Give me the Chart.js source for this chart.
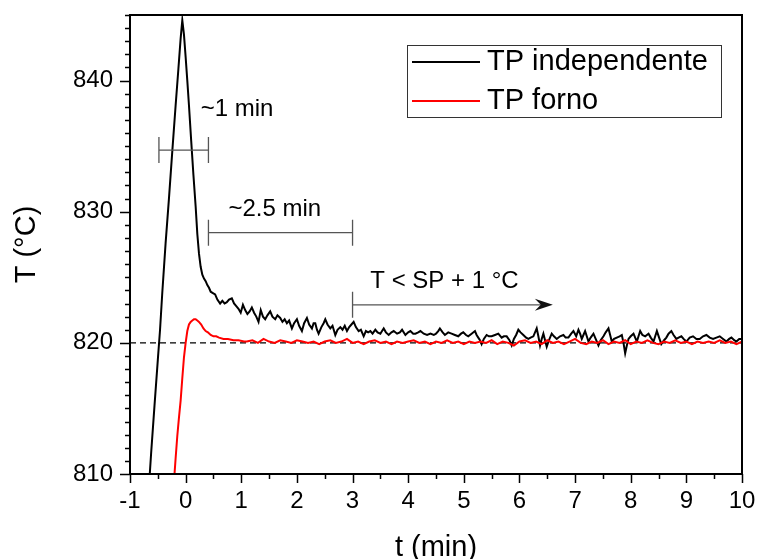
<!DOCTYPE html>
<html>
<head>
<meta charset="utf-8">
<script src="https://cdn.jsdelivr.net/npm/chart.js@4.4.1/dist/chart.umd.min.js"></script>
<style>
  html, body { margin: 0; padding: 0; background: #fff; }
  #wrap { width: 757px; height: 559px; }
</style>
</head>
<body>
<div id="wrap"><canvas id="chart" width="757" height="559"></canvas></div>
<script>
// ---------- data ----------
const xTickValues = [-1, 0, 1, 2, 3, 4, 5, 6, 7, 8, 9, 10];
const yTickValues = [810, 820, 830, 840];
const setPoint = 820;
const spLineT = [-1, 10];

// TP independente (black)
const tIndep = [
  -0.66, -0.62, -0.56, -0.50, -0.46, -0.42, -0.36, -0.30, -0.24, -0.18, -0.13, -0.09, -0.06, -0.03,
  0.00, 0.03, 0.06, 0.10, 0.14, 0.18, 0.21, 0.24, 0.27, 0.30, 0.33, 0.36, 0.39, 0.42, 0.45, 0.49,
  0.53, 0.57, 0.62, 0.66, 0.70, 0.74, 0.78, 0.83, 0.87, 0.91, 0.95, 0.99, 1.03, 1.07, 1.11, 1.15,
  1.19, 1.23, 1.27, 1.31, 1.35, 1.39, 1.43, 1.47, 1.52, 1.56, 1.61, 1.65, 1.70, 1.74, 1.78, 1.82,
  1.86, 1.91, 1.95, 2.00, 2.04, 2.09, 2.13, 2.18, 2.22, 2.27, 2.30, 2.33, 2.36, 2.39, 2.44, 2.48,
  2.51, 2.55, 2.60, 2.64, 2.69, 2.73, 2.78, 2.82, 2.86, 2.90, 2.94, 2.98, 3.02, 3.06, 3.11, 3.15,
  3.20, 3.24, 3.28, 3.32, 3.36, 3.41, 3.45, 3.50, 3.53, 3.56, 3.60, 3.65, 3.70, 3.74, 3.80, 3.85,
  3.89, 3.95, 4.00, 4.04, 4.09, 4.13, 4.18, 4.22, 4.28, 4.34, 4.40, 4.46, 4.50, 4.54, 4.57, 4.62,
  4.66, 4.72, 4.78, 4.84, 4.90, 4.95, 4.99, 5.04, 5.08, 5.14, 5.20, 5.23, 5.26, 5.29, 5.32, 5.36,
  5.41, 5.45, 5.50, 5.56, 5.62, 5.68, 5.72, 5.77, 5.82, 5.86, 5.90, 5.94, 5.98, 6.02, 6.07, 6.12,
  6.16, 6.20, 6.25, 6.31, 6.34, 6.37, 6.40, 6.43, 6.46, 6.49, 6.53, 6.58, 6.62, 6.67, 6.73, 6.79,
  6.83, 6.88, 6.93, 6.97, 7.02, 7.06, 7.09, 7.12, 7.15, 7.18, 7.21, 7.24, 7.28, 7.33, 7.37, 7.42,
  7.46, 7.51, 7.55, 7.60, 7.63, 7.66, 7.70, 7.75, 7.80, 7.84, 7.87, 7.90, 7.93, 7.96, 8.00, 8.05,
  8.08, 8.11, 8.14, 8.17, 8.21, 8.26, 8.32, 8.36, 8.41, 8.44, 8.47, 8.51, 8.55, 8.60, 8.64, 8.68,
  8.73, 8.77, 8.82, 8.86, 8.91, 8.95, 9.00, 9.06, 9.12, 9.18, 9.24, 9.30, 9.36, 9.42, 9.48, 9.54,
  9.60, 9.66, 9.72, 9.77, 9.81, 9.86, 9.90, 9.95, 10.00
];
const TIndep = [
  809.0, 811.6, 815.2, 818.7, 821.0, 823.8, 827.6, 831.0, 834.6, 838.1, 840.9, 843.2, 844.6, 843.5,
  841.8, 840.0, 838.1, 835.4, 832.8, 830.4, 828.3, 826.8, 825.8, 825.2, 824.9, 824.7, 824.4, 824.2, 823.9, 823.8,
  823.7, 823.3, 823.0, 823.2, 823.0, 823.1, 823.3, 823.4, 823.0, 822.8, 822.6, 822.3, 822.9, 822.5, 822.2, 822.4,
  822.7, 822.3, 822.0, 821.6, 822.5, 822.0, 821.8, 822.1, 822.4, 822.0, 821.8, 822.1, 821.9, 821.6, 821.8, 821.5,
  821.7, 821.1, 821.5, 821.8, 821.3, 820.9, 821.5, 821.9, 821.4, 821.1, 821.5, 821.5, 821.0, 820.7, 821.2, 821.5,
  821.8, 821.4, 821.1, 821.3, 820.6, 821.0, 821.2, 821.0, 821.3, 820.9, 821.2, 821.4, 821.6, 821.2, 820.9, 821.0,
  820.5, 820.9, 820.8, 820.9, 820.7, 821.0, 820.8, 820.7, 820.9, 821.1, 820.8, 820.6, 820.8, 820.9, 820.7, 820.8,
  821.0, 820.6, 820.8, 820.9, 820.7, 820.7, 820.8, 820.9, 820.7, 820.6, 820.7, 820.6, 820.7, 820.9, 821.1, 820.8,
  820.6, 820.8, 820.7, 820.6, 820.5, 820.7, 820.8, 820.6, 820.5, 820.7, 820.9, 820.6, 820.4, 820.2, 819.9, 820.3,
  820.6, 820.5, 820.5, 820.6, 820.7, 820.4, 820.5, 820.5, 820.2, 819.8, 820.3, 820.6, 821.0, 820.8, 820.6, 820.4,
  820.3, 820.4, 820.5, 821.1, 820.5, 819.8, 820.3, 820.7, 820.2, 819.7, 820.2, 820.7, 820.5, 820.3, 820.5, 820.6,
  820.4, 820.4, 820.7, 820.9, 820.5, 821.0, 820.7, 820.3, 820.6, 820.9, 820.5, 820.1, 820.4, 820.7, 820.3, 819.8,
  820.2, 820.5, 820.8, 821.1, 820.6, 820.1, 820.3, 820.4, 820.5, 820.6, 820.0, 819.2, 819.8, 820.3, 820.5, 820.7,
  820.4, 820.1, 820.5, 820.9, 820.6, 820.5, 820.7, 820.4, 820.1, 820.5, 820.9, 820.4, 819.9, 820.2, 820.4, 820.7,
  820.9, 820.6, 820.3, 820.4, 820.5, 820.3, 820.1, 820.4, 820.5, 820.3, 820.3, 820.5, 820.6, 820.4, 820.3, 820.4,
  820.5, 820.3, 820.1, 820.3, 820.4, 820.2, 820.1, 820.3, 820.3
];

// TP forno (red)
const tForno = [
  -0.21, -0.18, -0.15, -0.12, -0.09, -0.06, -0.03, 0.00, 0.03, 0.06, 0.09, 0.12, 0.15, 0.18,
  0.21, 0.24, 0.28, 0.32, 0.36, 0.40, 0.45, 0.50, 0.55, 0.60, 0.68, 0.76, 0.86, 0.95, 1.05,
  1.1, 1.2, 1.3, 1.4, 1.5, 1.6, 1.7, 1.8, 1.9, 2.0, 2.1, 2.2, 2.3, 2.4, 2.5, 2.6, 2.7, 2.8, 2.9,
  3.0, 3.1, 3.2, 3.3, 3.4, 3.5, 3.6, 3.7, 3.8, 3.9, 4.0, 4.1, 4.2, 4.3, 4.4, 4.5, 4.6, 4.7, 4.8, 4.9,
  5.0, 5.1, 5.2, 5.3, 5.4, 5.5, 5.6, 5.7, 5.8, 5.9, 6.0, 6.1, 6.2, 6.3, 6.4, 6.5, 6.6, 6.7, 6.8, 6.9,
  7.0, 7.1, 7.2, 7.3, 7.4, 7.5, 7.6, 7.7, 7.8, 7.9, 8.0, 8.1, 8.2, 8.3, 8.4, 8.5, 8.6, 8.7, 8.8, 8.9,
  9.0, 9.1, 9.2, 9.3, 9.4, 9.5, 9.6, 9.7, 9.8, 9.9, 10.0
];
const TForno = [
  809.4, 811.2, 812.9, 814.3, 815.6, 817.3, 818.9, 820.0, 820.9, 821.4, 821.6, 821.7, 821.8, 821.8,
  821.7, 821.6, 821.4, 821.1, 820.9, 820.8, 820.6, 820.5, 820.5, 820.4, 820.3, 820.3, 820.2, 820.2, 820.1,
  820.1, 820.2, 820.0, 820.3, 820.1, 820.0, 820.2, 820.1, 820.0, 820.2, 820.1, 820.0, 820.1, 819.9, 820.1, 820.2, 820.0, 820.1, 820.3,
  820.0, 820.1, 819.9, 820.1, 820.2, 820.0, 820.1, 819.9, 820.1, 820.0, 820.1, 820.2, 820.0, 820.1, 819.9, 820.1, 820.0, 820.2, 820.0, 820.1,
  819.9, 820.1, 820.0, 820.1, 820.0, 820.2, 819.9, 820.1, 820.0, 819.8, 820.1, 820.2, 820.0, 820.1, 819.9, 820.2, 820.0, 820.1, 819.9, 820.1,
  820.3, 820.0, 819.9, 820.1, 820.0, 820.2, 819.9, 820.1, 820.0, 820.2, 819.9, 820.1, 820.0, 820.2, 820.0, 819.9, 820.1, 820.0, 820.2, 820.0,
  820.1, 819.9, 820.1, 820.0, 820.1, 820.0, 820.2, 820.0, 820.1, 819.9, 820.1
];

// annotations (data units)
const spanBars = [
  { from: -0.48, to: 0.41, y: 834.7, label: "~1 min", lx: 0.27, ly: 837.8 },
  { from: 0.41, to: 3.0, y: 828.4, label: "~2.5 min", lx: 0.77, ly: 830.15 },
];
const arrowNote = { from: 3.0, to: 6.6, y: 822.9, label: "T < SP + 1 °C", lx: 3.32, ly: 824.7 };

// ---------- helpers ----------
const FONT = "'Liberation Sans', Arial, Helvetica, sans-serif";
const pts = (ts, vs) => ts.map((t, i) => ({ x: t, y: vs[i] }));

// keep tick labels from pushing the plot area inwards
function fixBox(axis, size) {
  if (axis.isHorizontal()) axis.height = size; else axis.width = size;
  axis.paddingTop = 0;
  axis.paddingBottom = 0;
  axis.paddingLeft = 0;
  axis.paddingRight = 0;
}

const decor = {
  id: "decor",
  afterDatasetsDraw(chart) {
    const { ctx, scales: { x, y } } = chart;
    ctx.save();
    ctx.strokeStyle = "#555";
    ctx.lineWidth = 1.3;
    ctx.fillStyle = "#000";
    ctx.font = "24px " + FONT;
    ctx.textBaseline = "middle";
    ctx.textAlign = "left";

    // span bars with end caps
    spanBars.forEach((b) => {
      const x0 = x.getPixelForValue(b.from), x1 = x.getPixelForValue(b.to);
      const py = y.getPixelForValue(b.y);
      ctx.beginPath();
      ctx.moveTo(x0, py); ctx.lineTo(x1, py);
      ctx.moveTo(x0, py - 13); ctx.lineTo(x0, py + 13);
      ctx.moveTo(x1, py - 13); ctx.lineTo(x1, py + 13);
      ctx.stroke();
      ctx.fillText(b.label, x.getPixelForValue(b.lx), y.getPixelForValue(b.ly));
    });

    // arrow
    const ax0 = x.getPixelForValue(arrowNote.from), ax1 = x.getPixelForValue(arrowNote.to);
    const ay = y.getPixelForValue(arrowNote.y);
    ctx.beginPath();
    ctx.moveTo(ax0, ay - 13); ctx.lineTo(ax0, ay + 13);
    ctx.moveTo(ax0, ay); ctx.lineTo(ax1 - 6, ay);
    ctx.stroke();
    ctx.fillStyle = "#111";
    ctx.beginPath();
    ctx.moveTo(ax1, ay);
    ctx.lineTo(ax1 - 18, ay - 6);
    ctx.lineTo(ax1 - 12, ay);
    ctx.lineTo(ax1 - 18, ay + 6);
    ctx.closePath();
    ctx.fill();
    ctx.fillStyle = "#000";
    ctx.fillText(arrowNote.label, x.getPixelForValue(arrowNote.lx), y.getPixelForValue(arrowNote.ly));

    // legend box
    ctx.strokeStyle = "#333";
    ctx.lineWidth = 1;
    ctx.strokeRect(407.5, 45.5, 314, 72);
    ctx.font = "29px " + FONT;
    [0, 1].forEach((di, row) => {
      const ds = chart.data.datasets[di];
      const ry = 62 + row * 39;
      ctx.strokeStyle = ds.borderColor;
      ctx.lineWidth = 2;
      ctx.beginPath();
      ctx.moveTo(412, ry); ctx.lineTo(480, ry);
      ctx.stroke();
      ctx.fillStyle = "#000";
      ctx.fillText(ds.label, 487, ry);
    });
    ctx.restore();
  },
  afterDraw(chart) {
    const { ctx, chartArea: a, scales: { x, y } } = chart;
    ctx.save();
    ctx.strokeStyle = "#000";
    ctx.lineWidth = 1.5;
    ctx.beginPath();
    // x ticks: major every 1, minor every 0.5 (outward)
    for (let i = 0; i <= 22; i++) {
      const v = -1 + i * 0.5;
      const px = Math.round(x.getPixelForValue(v)) + 0.5;
      const len = i % 2 === 0 ? 9 : 5;
      ctx.moveTo(px, a.bottom); ctx.lineTo(px, a.bottom + len);
    }
    // y ticks: major every 10, minor every 1
    for (let i = 0; i <= 35; i++) {
      const v = 810 + i;
      const py = Math.round(y.getPixelForValue(v)) + 0.5;
      const len = i % 10 === 0 ? 10 : 5;
      ctx.moveTo(a.left, py); ctx.lineTo(a.left - len, py);
    }
    ctx.stroke();
    // frame
    ctx.lineWidth = 2;
    ctx.strokeRect(a.left, a.top, a.right - a.left, a.bottom - a.top);
    ctx.restore();
  },
};

// ---------- chart ----------
const ctx = document.getElementById("chart").getContext("2d");
new Chart(ctx, {
  type: "line",
  data: {
    datasets: [
      {
        label: "TP independente",
        data: pts(tIndep, TIndep),
        borderColor: "#000000",
        borderWidth: 2,
        pointRadius: 0,
        tension: 0,
        clip: 0,
        order: 2,
      },
      {
        label: "TP forno",
        data: pts(tForno, TForno),
        borderColor: "#ff0000",
        borderWidth: 2,
        pointRadius: 0,
        tension: 0,
        clip: 0,
        order: 1,
      },
      {
        label: "SP",
        data: pts(spLineT, [setPoint, setPoint]),
        borderColor: "#000000",
        borderWidth: 1.2,
        borderDash: [6, 4],
        pointRadius: 0,
        clip: 0,
        order: 3,
      },
    ],
  },
  options: {
    responsive: false,
    animation: false,
    layout: { padding: { left: 0, right: 15, top: 15, bottom: 0 } },
    plugins: { legend: { display: false }, tooltip: { enabled: false } },
    scales: {
      x: {
        type: "linear",
        min: -1,
        max: 10,
        afterBuildTicks: (axis) => { axis.ticks = xTickValues.map((v) => ({ value: v })); },
        afterFit: (axis) => fixBox(axis, 85),
        grid: { display: false, drawTicks: false },
        border: { display: false },
        ticks: {
          padding: 13,
          color: "#000",
          font: { size: 24, family: FONT },
          maxRotation: 0,
          autoSkip: false,
          callback: (v) => String(v),
        },
        title: {
          display: true,
          text: "t (min)",
          color: "#000",
          font: { size: 29, family: FONT },
          padding: { top: 0, bottom: -6 },
        },
      },
      y: {
        type: "linear",
        min: 810,
        max: 845,
        afterBuildTicks: (axis) => { axis.ticks = yTickValues.map((v) => ({ value: v })); },
        afterFit: (axis) => fixBox(axis, 130),
        grid: { display: false, drawTicks: false },
        border: { display: false },
        ticks: {
          padding: 17,
          color: "#000",
          font: { size: 24, family: FONT },
          callback: (v) => String(v),
        },
        title: {
          display: true,
          text: "T (°C)",
          color: "#000",
          font: { size: 29, family: FONT },
          padding: { top: 10, bottom: 0 },
        },
      },
    },
  },
  plugins: [decor],
});
</script>
</body>
</html>
